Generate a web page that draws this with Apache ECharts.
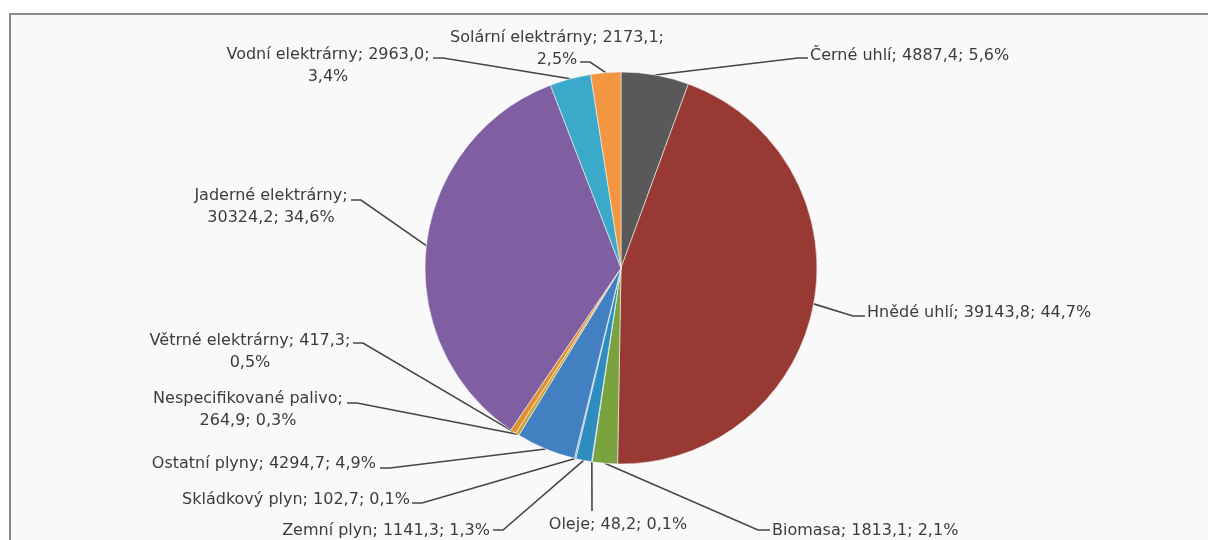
<!DOCTYPE html>
<html>
<head>
<meta charset="utf-8">
<script src="https://cdn.jsdelivr.net/npm/echarts@6/dist/echarts.min.js"></script>
<style>
  html, body { margin: 0; padding: 0; background: #fff; }
  #main { width: 1208px; height: 540px; }
</style>
</head>
<body>
<div id="main"></div>
<script>
// data
var names = ['Černé uhlí', 'Hnědé uhlí', 'Biomasa', 'Oleje', 'Zemní plyn', 'Skládkový plyn',
    'Ostatní plyny', 'Nespecifikované palivo', 'Větrné elektrárny', 'Jaderné elektrárny',
    'Vodní elektrárny', 'Solární elektrárny'];
var values = [4887.4, 39143.8, 1813.1, 48.2, 1141.3, 102.7, 4294.7, 264.9, 417.3, 30324.2, 2963.0, 2173.1];

// style
var colors = ['#595959', '#983a33', '#7aa23e', '#5c8fbf', '#2f8cbf', '#6aa8d8',
    '#4380c2', '#c9a23a', '#e0902e', '#7f5fa2', '#3ba9c9', '#f39641'];

// where the line breaks in each label: 0 = one line, 1 = before percent, 2 = before value
var wrap = [0, 0, 0, 0, 0, 0, 0, 2, 1, 2, 1, 1];

// label placement: text anchor x, y, align, leader line end x, y, elbow x
var labelPos = [
    [810, 56, 'left', 808, 58, 798],
    [867, 313, 'left', 865, 316, 853],
    [772, 531, 'left', 770, 530, 758],
    [618, 525, 'center', 592, 511, 592],
    [490, 531, 'right', 493, 530, 503],
    [410, 500, 'right', 412, 503, 422],
    [376, 464, 'right', 380, 468, 390],
    [248, 410, 'center', 347, 403, 357],
    [250, 352, 'center', 353, 343, 363],
    [271, 207, 'center', 351, 200, 361],
    [328, 66, 'center', 433, 58, 443],
    [557, 49, 'center', 580, 62, 590]
];

var total = values.reduce(function (a, b) { return a + b; }, 0);
function fmt(v, d) {
    return v.toFixed(d).replace('.', ',');
}

var data = [];
for (var i = 0; i < names.length; i++) {
    data.push({
        name: names[i],
        value: values[i],
        itemStyle: { color: colors[i] },
        label: { align: labelPos[i][2] }
    });
}

var myChart = echarts.init(document.getElementById('main'));
var option = {
    animation: false,
    graphic: [{
        type: 'rect',
        shape: { x: 10, y: 14, width: 1220, height: 560 },
        style: { fill: '#f9f9f9', stroke: '#8a8a8a', lineWidth: 2 },
        z: -10
    }],
    series: [{
        type: 'pie',
        center: [621, 268],
        radius: 196,
        startAngle: 90,
        clockwise: true,
        avoidLabelOverlap: false,
        itemStyle: { borderColor: '#f4f4f4', borderWidth: 0.6 },
        label: {
            show: true,
            position: 'outside',
            color: '#3c3c3c',
            fontFamily: 'DejaVu Sans',
            fontSize: 16,
            lineHeight: 22,
            formatter: function (p) {
                var i = p.dataIndex;
                var v = fmt(values[i], 1);
                var pct = fmt(values[i] / total * 100, 1) + '%';
                if (wrap[i] === 1) return p.name + '; ' + v + ';\n' + pct;
                if (wrap[i] === 2) return p.name + ';\n' + v + '; ' + pct;
                return p.name + '; ' + v + '; ' + pct;
            }
        },
        labelLine: {
            show: true,
            lineStyle: { color: '#454545', width: 1.6 }
        },
        labelLayout: function (params) {
            var lp = labelPos[params.dataIndex];
            var start = params.labelLinePoints ? params.labelLinePoints[0] : [lp[3], lp[4]];
            return {
                x: lp[0],
                y: lp[1],
                align: lp[2],
                verticalAlign: 'middle',
                labelLinePoints: [start, [lp[5], lp[4]], [lp[3], lp[4]]]
            };
        },
        emphasis: { disabled: true },
        data: data
    }]
};
myChart.setOption(option);
</script>
</body>
</html>
